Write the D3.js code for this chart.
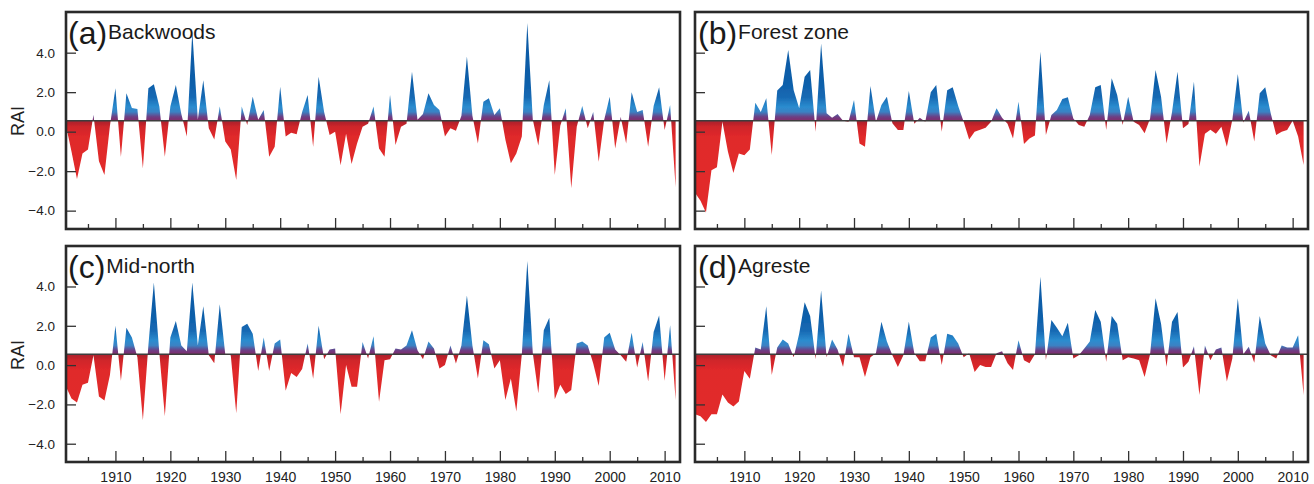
<!DOCTYPE html>
<html>
<head>
<meta charset="utf-8">
<script src="https://cdn.jsdelivr.net/npm/d3@7"></script>
<style>
  html, body { margin: 0; padding: 0; background: #fff; }
  svg { display: block; font-family: "Liberation Sans", Arial, sans-serif; }
</style>
</head>
<body>
<div id="svgOutput"></div>
<script>
// RAI series, one value per year, 1901-2012

const firstYear = 1901;

const backwoods = [
  0.3, -1.0, -2.4, -1.1, -0.9, 0.85, -1.5, -2.2, 0.3, 2.2,
  -1.27, 1.94, 1.2, 1.15, -1.86, 2.2, 2.4, 1.27, -1.27, 1.27,
  2.36, 0.9, -0.25, 5.06, 0.6, 2.6, 0.17, -0.4, 1.27, -0.5,
  -0.9, -2.45, 1.27, 0.34, 1.77, 0.6, 1.1, -1.27, -0.76, 2.28,
  -0.25, -0.05, -0.13, 1.0, 1.86, -0.76, 2.78, 1.0, -0.17, 0.0,
  -1.7, -0.1, -1.64, -0.6, 0.25, 0.4, 1.27, -0.85, -1.27, 1.86,
  -0.68, 0.25, 0.4, 3.04, 0.6, 0.9, 1.94, 1.35, 1.1, -0.25,
  0.17, 0.05, 0.8, 3.8, 0.8, -0.6, 1.52, 1.69, 0.84, 1.18,
  -0.4, -1.6, -1.1, -0.25, 5.5, 0.6, -0.7, 1.35, 2.6, -2.2,
  0.3, 1.18, -2.87, 0.25, 1.3, 0.17, 1.0, -1.52, 0.6, 1.77,
  -0.85, 0.75, -0.6, 2.0, 1.0, 1.1, -0.76, 1.3, 2.25, 0.08,
  1.35, -2.8
];

const forestZone = [
  -3.1, -3.5, -4.1, -1.95, -1.8, 0.5, -1.0, -2.1, -1.1, -1.2,
  -0.9, 1.47, 1.0, 1.69, -1.18, 2.08, 2.36, 4.13, 2.1, 1.18,
  2.78, 3.12, 0.0, 4.47, 0.93, 0.7, 0.9, 0.55, 0.5, 1.6,
  -0.6, -0.76, 2.31, 0.5, 1.35, 1.77, 0.42, 0.08, 0.08, 2.06,
  0.4, 0.7, 0.5, 2.0, 2.36, 0.0, 2.1, 2.25, 1.3, 0.5,
  -0.4, 0.0, 0.1, 0.2, 0.5, 1.18, 0.7, 0.4, -0.35, 1.52,
  -0.63, -0.35, -0.2, 4.05, -0.17, 0.84, 1.1, 1.65, 1.74, 0.67,
  0.34, 0.25, 0.84, 2.25, 2.36, 0.08, 2.7, 1.86, 0.34, 1.77,
  0.5, 0.34, -0.08, 0.67, 3.12, 1.77, -0.6, 1.0, 3.04, 0.17,
  0.39, 2.53, -1.77, -0.1, 0.1, -0.1, 0.25, -0.76, 0.6, 2.92,
  0.46, 1.06, -0.5, 1.94, 2.25, 0.93, -0.17, 0.0, 0.08, 0.55,
  -0.25, -1.69
];

const midNorth = [
  -1.1, -1.7, -1.9, -1.0, -0.9, 0.5, -1.6, -1.8, -0.5, 2.0,
  -0.8, 1.9, 1.4, 0.4, -2.8, 1.0, 4.2, 0.6, -2.6, 1.4,
  2.25, 1.0, 0.7, 4.2, 1.0, 3.0, 0.5, 0.1, 3.1, 0.55,
  0.5, -2.45, 1.94, 2.1, 1.6, -0.3, 1.4, -0.3, 1.1, 1.3,
  -1.3, -0.4, -0.6, -0.2, 1.1, -0.7, 2.0, 0.3, 0.8, 0.85,
  -2.5, 0.0, -1.1, -1.1, 1.18, 0.34, 1.47, -1.86, 0.25, 0.3,
  0.84, 0.8, 1.0, 1.77, 0.76, 0.3, 1.2, 0.84, -0.17, 0.0,
  1.0, 0.08, 1.0, 3.54, 1.0, -0.68, 1.27, 1.06, -0.17, 0.25,
  -1.77, -0.68, -2.36, 0.55, 5.3, 0.6, -1.43, 1.77, 2.41, -1.74,
  -1.0, -1.47, -1.27, 1.1, 1.2, 1.0, 0.08, -1.06, 1.4, 1.64,
  0.8, 0.5, 0.17, 1.64, -0.12, 1.18, -0.84, 1.69, 2.53, -0.8,
  2.03, -1.77
];

const agreste = [
  -2.5, -2.6, -2.9, -2.5, -2.5, -1.5, -1.9, -2.1, -1.85, -0.3,
  -0.7, 0.9, 0.8, 3.0, -0.5, 0.9, 1.3, 1.1, 0.4, 1.6,
  3.2, 2.5, 0.3, 3.8, 0.4, 1.3, 0.8, -0.1, 1.6, 0.4,
  0.4, -0.6, 0.4, 0.6, 2.2, 1.2, 0.5, -0.1, 0.5, 2.2,
  0.6, 0.2, 0.2, 1.4, 1.6, 0.0, 1.6, 1.5, 1.1, 0.4,
  0.6, -0.35, 0.0, -0.1, -0.1, 0.6, 0.7, 0.1, -0.25, 1.27,
  0.25, 0.1, 0.55, 4.5, 0.25, 2.3, 1.9, 1.47, 2.15, 0.34,
  0.5, 0.84, 1.2, 2.8, 2.2, 0.17, 2.5, 2.1, 0.25, 0.4,
  0.34, 0.25, -0.6, 0.55, 3.4, 2.1, -0.08, 2.2, 2.7, -0.12,
  0.17, 0.96, -1.52, 1.0, 0.25, 0.8, 0.9, -0.84, 0.34, 3.4,
  0.55, 0.93, 0.12, 2.5, 1.1, 0.5, 0.34, 1.0, 0.9, 0.9,
  1.52, -1.52
];

const panelLetters = ["(a)", "(b)", "(c)", "(d)"];
const panelNames = ["Backwoods", "Forest zone", "Mid-north", "Agreste"];
const yTicks = [-4, -2, 0, 2, 4];
const xMajorTicks = [1910, 1920, 1930, 1940, 1950, 1960, 1970, 1980, 1990, 2000, 2010];
const xMinorTicks = [1905, 1915, 1925, 1935, 1945, 1955, 1965, 1975, 1985, 1995, 2005];
const baseValue = 0.55;   // level of the dividing line

// config

const width = 1314;
const height = 484;

const layout = [
  { x: 66,  y: 12,  w: 614, h: 217, left: true,  bottom: false },
  { x: 695, y: 12,  w: 613, h: 217, left: false, bottom: false },
  { x: 66,  y: 246, w: 614, h: 216, left: true,  bottom: true },
  { x: 695, y: 246, w: 613, h: 216, left: false, bottom: true }
];

const series = [backwoods, forestZone, midNorth, agreste];
const years = backwoods.map((d, i) => firstYear + i);

const svg = d3.select("#svgOutput")
  .append("svg")
  .attr("width", width)
  .attr("height", height)
  .attr("viewBox", [0, 0, width, height]);

svg.append("rect")
  .attr("width", width)
  .attr("height", height)
  .attr("fill", "#ffffff");

const defs = svg.append("defs");

defs.append("filter")
  .attr("id", "soft")
  .append("feGaussianBlur")
  .attr("stdDeviation", 0.45);

const fmt = d3.format(".1f");

layout.forEach(function (p, k) {
  const values = series[k];

  // scales

  const x = d3.scaleLinear()
    .domain([firstYear, 2012.8])
    .range([p.x, p.x + p.w]);

  const y = d3.scaleLinear()
    .domain([-4.93, 6.06])
    .range([p.y + p.h, p.y]);

  const yBase = y(baseValue);
  const g = svg.append("g").attr("class", "panel");

  // gradients, fixed to the panel so every peak shares them

  const upStops = [
    [0.0, "#83296a"], [0.2, "#6c3f84"], [0.45, "#3a82c4"], [0.7, "#2b8ccf"],
    [1.2, "#1769b3"], [2.0, "#0c5ea9"], [5.5, "#0958a3"]
  ];
  const blue = defs.append("linearGradient")
    .attr("id", "blue" + k)
    .attr("gradientUnits", "userSpaceOnUse")
    .attr("x1", 0).attr("x2", 0)
    .attr("y1", yBase).attr("y2", y(baseValue + 5.5));
  blue.selectAll("stop")
    .data(upStops)
    .enter()
    .append("stop")
    .attr("offset", (d) => d[0] / 5.5)
    .attr("stop-color", (d) => d[1]);

  const downStops = [[0.0, "#a8222e"], [0.3, "#cf2529"], [0.8, "#e0292a"], [5.5, "#e32b2b"]];
  const red = defs.append("linearGradient")
    .attr("id", "red" + k)
    .attr("gradientUnits", "userSpaceOnUse")
    .attr("x1", 0).attr("x2", 0)
    .attr("y1", yBase).attr("y2", y(baseValue - 5.5));
  red.selectAll("stop")
    .data(downStops)
    .enter()
    .append("stop")
    .attr("offset", (d) => d[0] / 5.5)
    .attr("stop-color", (d) => d[1]);

  // clip above / below the dividing line

  defs.append("clipPath").attr("id", "up" + k)
    .append("rect")
    .attr("x", p.x).attr("y", p.y)
    .attr("width", p.w).attr("height", yBase - p.y);

  defs.append("clipPath").attr("id", "down" + k)
    .append("rect")
    .attr("x", p.x).attr("y", yBase)
    .attr("width", p.w).attr("height", p.y + p.h - yBase);

  const area = d3.area()
    .x((d, i) => x(years[i]))
    .y0(yBase)
    .y1((d) => y(d));

  g.append("path")
    .datum(values)
    .attr("clip-path", "url(#up" + k + ")")
    .attr("filter", "url(#soft)")
    .attr("fill", "url(#blue" + k + ")")
    .attr("d", area);

  g.append("path")
    .datum(values)
    .attr("clip-path", "url(#down" + k + ")")
    .attr("filter", "url(#soft)")
    .attr("fill", "url(#red" + k + ")")
    .attr("d", area);

  // dividing line

  g.append("line")
    .attr("x1", p.x).attr("x2", p.x + p.w)
    .attr("y1", yBase).attr("y2", yBase)
    .attr("stroke", "#3d3d3d")
    .attr("stroke-width", 1.6);

  // axes, ticks pointing inwards

  const yAxis = g.append("g")
    .attr("transform", "translate(" + p.x + ",0)")
    .call(d3.axisLeft(y)
      .tickValues(yTicks)
      .tickSize(-10)
      .tickPadding(11)
      .tickFormat(p.left ? fmt : ""));

  const xMinor = g.append("g")
    .attr("transform", "translate(0," + (p.y + p.h) + ")")
    .call(d3.axisBottom(x)
      .tickValues(xMinorTicks)
      .tickSize(-5)
      .tickFormat(""));

  const xMajor = g.append("g")
    .attr("transform", "translate(0," + (p.y + p.h) + ")")
    .call(d3.axisBottom(x)
      .tickValues(xMajorTicks)
      .tickSize(-11)
      .tickPadding(10)
      .tickFormat(p.bottom ? d3.format("d") : ""));

  [yAxis, xMinor, xMajor].forEach(function (a) {
    a.select(".domain").remove();
    a.selectAll(".tick line").attr("stroke", "#333").attr("stroke-width", 1.3);
    a.selectAll(".tick text")
      .attr("fill", "#222")
      .attr("font-family", "'Liberation Sans', Arial, sans-serif");
  });
  yAxis.selectAll(".tick text").attr("font-size", 13.5);
  xMajor.selectAll(".tick text").attr("font-size", 14);

  // frame

  g.append("rect")
    .attr("x", p.x).attr("y", p.y)
    .attr("width", p.w).attr("height", p.h)
    .attr("fill", "none")
    .attr("stroke", "#2a2a2a")
    .attr("stroke-width", 2.6);

  // panel title

  const letter = g.append("text")
    .attr("x", p.x + (p.left ? 2 : 3))
    .attr("y", p.y + 32)
    .attr("font-size", 32)
    .attr("fill", "#1a1a1a")
    .text(panelLetters[k]);

  g.append("text")
    .attr("x", p.x + (p.left ? 2 : 3) + letter.node().getComputedTextLength() + 1)
    .attr("y", p.y + 26.5)
    .attr("font-size", 21)
    .attr("fill", "#1a1a1a")
    .text(panelNames[k]);

  if (p.left) {
    g.append("text")
      .attr("transform", "translate(" + 24 + "," + (p.y + 109) + ") rotate(-90)")
      .attr("text-anchor", "middle")
      .attr("font-size", 18)
      .attr("fill", "#222")
      .text("RAI");
  }
});
</script>
</body>
</html>
